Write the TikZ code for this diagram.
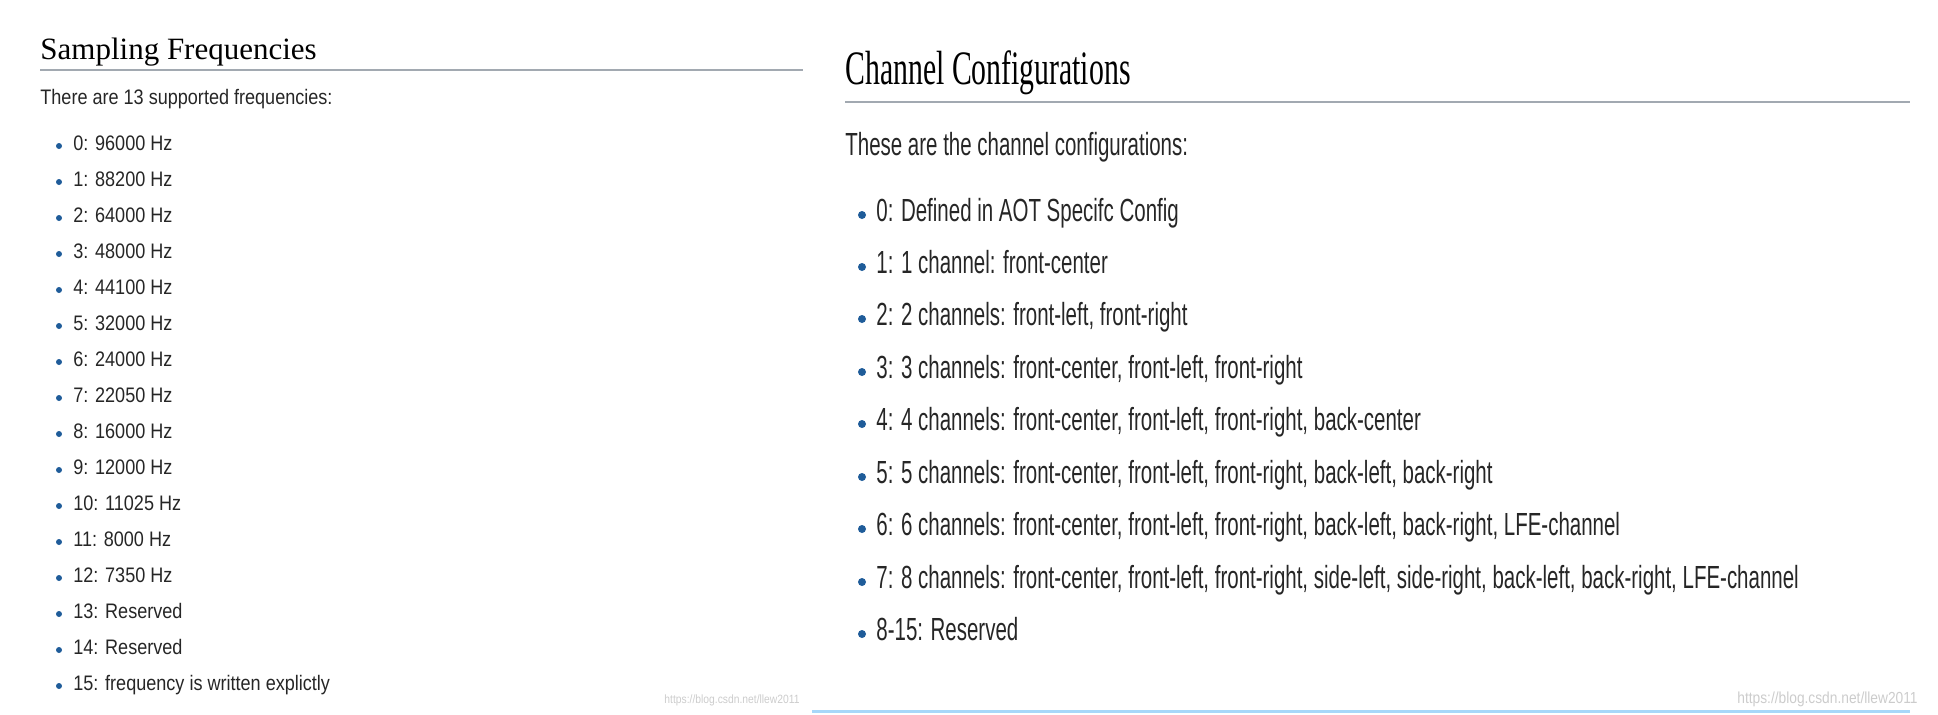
\documentclass[tikz,border=0pt]{standalone}
\usepackage{fontspec}
\setmainfont{Liberation Sans}
\newfontfamily\headfont{Liberation Serif}
\newfontfamily\headnarrow[FakeStretch=0.62]{Liberation Serif}
\newfontfamily\leftfont[FakeStretch=0.86]{Liberation Sans}
\newfontfamily\rightfont[FakeStretch=0.64]{Liberation Sans}
\definecolor{rulegray}{HTML}{A2A9B1}
\definecolor{bulletblue}{HTML}{1F5C99}
\definecolor{lightblue}{HTML}{A7D7F9}
\tikzset{
  litem/.style={anchor=base west, inner sep=0pt, font=\leftfont\fontsize{10.5}{12}\selectfont, text=black!85},
  ritem/.style={anchor=base west, inner sep=0pt, font=\rightfont\fontsize{16}{18}\selectfont, text=black!85},
  dot/.style={circle, fill=bulletblue, inner sep=0pt, minimum size=3pt}
}
\begin{document}
\begin{tikzpicture}[x=0.5pt, y=-0.5pt]
	    \useasboundingbox (0,0) rectangle (1938,714);
	    
	    % left column
	    \node [anchor=base west, inner sep=0pt, font=\headfont\fontsize{15.5}{18}\selectfont] (lhead) at (40,59) {Sampling Frequencies};
	    \draw [rulegray, line width=1pt] (40,70) -- (803,70);
	    \node [litem] (lintro) at (40,104) {There are 13 supported frequencies:};
	    \node [dot] at (59,146) {}; \node [litem] (f0) at (73,150) {0: 96000 Hz};
	    \node [dot] at (59,182) {}; \node [litem] (f1) at (73,186) {1: 88200 Hz};
	    \node [dot] at (59,218) {}; \node [litem] (f2) at (73,222) {2: 64000 Hz};
	    \node [dot] at (59,254) {}; \node [litem] (f3) at (73,258) {3: 48000 Hz};
	    \node [dot] at (59,290) {}; \node [litem] (f4) at (73,294) {4: 44100 Hz};
	    \node [dot] at (59,326) {}; \node [litem] (f5) at (73,330) {5: 32000 Hz};
	    \node [dot] at (59,362) {}; \node [litem] (f6) at (73,366) {6: 24000 Hz};
	    \node [dot] at (59,398) {}; \node [litem] (f7) at (73,402) {7: 22050 Hz};
	    \node [dot] at (59,434) {}; \node [litem] (f8) at (73,438) {8: 16000 Hz};
	    \node [dot] at (59,470) {}; \node [litem] (f9) at (73,474) {9: 12000 Hz};
	    \node [dot] at (59,506) {}; \node [litem] (f10) at (73,510) {10: 11025 Hz};
	    \node [dot] at (59,542) {}; \node [litem] (f11) at (73,546) {11: 8000 Hz};
	    \node [dot] at (59,578) {}; \node [litem] (f12) at (73,582) {12: 7350 Hz};
	    \node [dot] at (59,614) {}; \node [litem] (f13) at (73,618) {13: Reserved};
	    \node [dot] at (59,650) {}; \node [litem] (f14) at (73,654) {14: Reserved};
	    \node [dot] at (59,686) {}; \node [litem] (f15) at (73,690) {15: frequency is written explictly};
	    \node [anchor=base east, inner sep=0pt, font=\leftfont\fontsize{6}{7}\selectfont, text=black!20] (lmark) at (800,703) {https://blog.csdn.net/llew2011};
	    
	    % right column
	    \node [anchor=base west, inner sep=0pt, font=\headnarrow\fontsize{24}{28}\selectfont] (rhead) at (845,84) {Channel Configurations};
	    \draw [rulegray, line width=1pt] (845,102) -- (1910,102);
	    \node [ritem] (rintro) at (845,155) {These are the channel configurations:};
	    \node [dot, minimum size=4pt] at (862,215) {}; \node [ritem] (c0) at (876,221) {0: Defined in AOT Specifc Config};
	    \node [dot, minimum size=4pt] at (862,267) {}; \node [ritem] (c1) at (876,273) {1: 1 channel: front-center};
	    \node [dot, minimum size=4pt] at (862,319) {}; \node [ritem] (c2) at (876,325) {2: 2 channels: front-left, front-right};
	    \node [dot, minimum size=4pt] at (862,372) {}; \node [ritem] (c3) at (876,378) {3: 3 channels: front-center, front-left, front-right};
	    \node [dot, minimum size=4pt] at (862,424) {}; \node [ritem] (c4) at (876,430) {4: 4 channels: front-center, front-left, front-right, back-center};
	    \node [dot, minimum size=4pt] at (862,477) {}; \node [ritem] (c5) at (876,483) {5: 5 channels: front-center, front-left, front-right, back-left, back-right};
	    \node [dot, minimum size=4pt] at (862,529) {}; \node [ritem] (c6) at (876,535) {6: 6 channels: front-center, front-left, front-right, back-left, back-right, LFE-channel};
	    \node [dot, minimum size=4pt] at (862,582) {}; \node [ritem] (c7) at (876,588) {7: 8 channels: front-center, front-left, front-right, side-left, side-right, back-left, back-right, LFE-channel};
	    \node [dot, minimum size=4pt] at (862,634) {}; \node [ritem] (c8) at (876,640) {8-15: Reserved};
	    \node [anchor=base east, inner sep=0pt, font=\leftfont\fontsize{8}{9}\selectfont, text=black!20] (rmark) at (1918,703) {https://blog.csdn.net/llew2011};
	    \draw [lightblue, line width=1.5pt] (812,711) -- (1910,711);
	\end{tikzpicture}
\end{document}
